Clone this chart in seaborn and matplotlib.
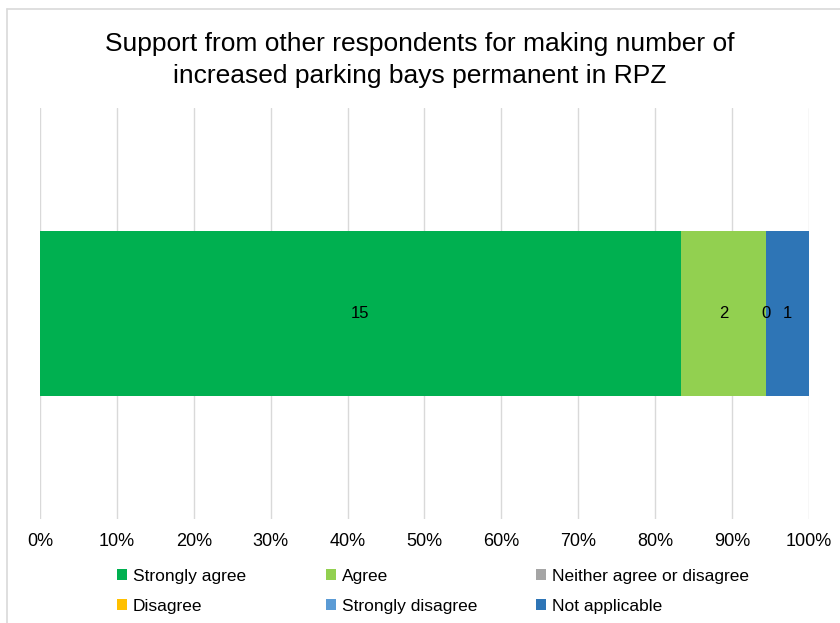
import pandas as pd
import matplotlib.pyplot as plt
import seaborn as sns
from matplotlib.patches import Patch
from matplotlib.lines import Line2D

# Datos
categories = ["Strongly agree", "Agree", "Neither agree or disagree",
              "Disagree", "Strongly disagree", "Not applicable"]
counts = [15, 2, 0, 0, 0, 1]
colors = ["#00B050", "#92D050", "#A5A5A5", "#FFC000", "#5B9BD5", "#2E75B6"]
tick_labels = ["0%", "10%", "20%", "30%", "40%", "50%",
               "60%", "70%", "80%", "90%", "100%"]

df = pd.DataFrame({"category": categories, "count": counts})
total = df["count"].sum()
df["pct"] = df["count"] / total * 100
df["cum"] = df["pct"].cumsum()
df["start"] = df["cum"] - df["pct"]
df["row"] = "RPZ"

sns.set_style("white")
plt.rcParams["font.family"] = ["Liberation Sans", "DejaVu Sans"]
plt.rcParams["text.color"] = "black"
plt.rcParams["xtick.color"] = "black"

fig = plt.figure(figsize=(8.4, 6.23), dpi=100)
ax = fig.add_axes([40 / 840, 1 - 519 / 623, 769 / 840, 411 / 623])

# barras apiladas: se dibuja el acumulado de atrás hacia adelante
for i in reversed(range(len(df))):
    sub = df.iloc[[i]]
    sns.barplot(data=sub, x="cum", y="row", color=colors[i], width=0.4,
                orient="h", ax=ax, saturation=1, linewidth=0, zorder=2)

# etiquetas (las que caen en el mismo sitio se escriben una sola vez)
seen = set()
for _, r in df.iterrows():
    xc = round(r["start"] + r["pct"] / 2, 6)
    key = (xc, r["count"])
    if key in seen:
        continue
    seen.add(key)
    ax.text(xc, 0, f"{r['count']}",
            ha="center", va="center", fontsize=12, color="black", zorder=3)

ax.set_xlim(0, 100)
ax.set_ylim(0.5, -0.5)
ax.set_xticks(range(0, 101, 10))
ax.set_xticklabels(tick_labels, fontsize=13)
ax.set_yticks([])
ax.set_xlabel("")
ax.set_ylabel("")
ax.xaxis.grid(True, color="#D9D9D9", linewidth=1, zorder=0)
ax.set_axisbelow(True)
ax.tick_params(axis="x", length=0, pad=10)
for s in ax.spines.values():
    s.set_visible(False)

fig.text(0.5, 1 - 60 / 623,
         "Support from other respondents for making number of\n"
         "increased parking bays permanent in RPZ",
         ha="center", va="center", fontsize=19, linespacing=1.42)

# leyenda en tres columnas
col_x = [117, 326, 536]
for c in range(3):
    idx = [c, c + 3]
    handles = [Patch(facecolor=colors[i], edgecolor="none") for i in idx]
    labels = [categories[i] for i in idx]
    fig.legend(handles, labels, loc="upper left",
               bbox_to_anchor=(col_x[c] / 840, 1 - 569 / 623),
               frameon=False, fontsize=12.5, handlelength=0.6, handleheight=0.6,
               handletextpad=0.3, labelspacing=0.85, borderaxespad=0,
               borderpad=0)

# borde del área del gráfico
fig.add_artist(Line2D([7 / 840, 7 / 840], [0, 1 - 9 / 623],
                      transform=fig.transFigure, color="#D9D9D9", lw=1.2))
fig.add_artist(Line2D([7 / 840, 1], [1 - 9 / 623, 1 - 9 / 623],
                      transform=fig.transFigure, color="#D9D9D9", lw=1.2))

fig.savefig("out.png", dpi=100)
